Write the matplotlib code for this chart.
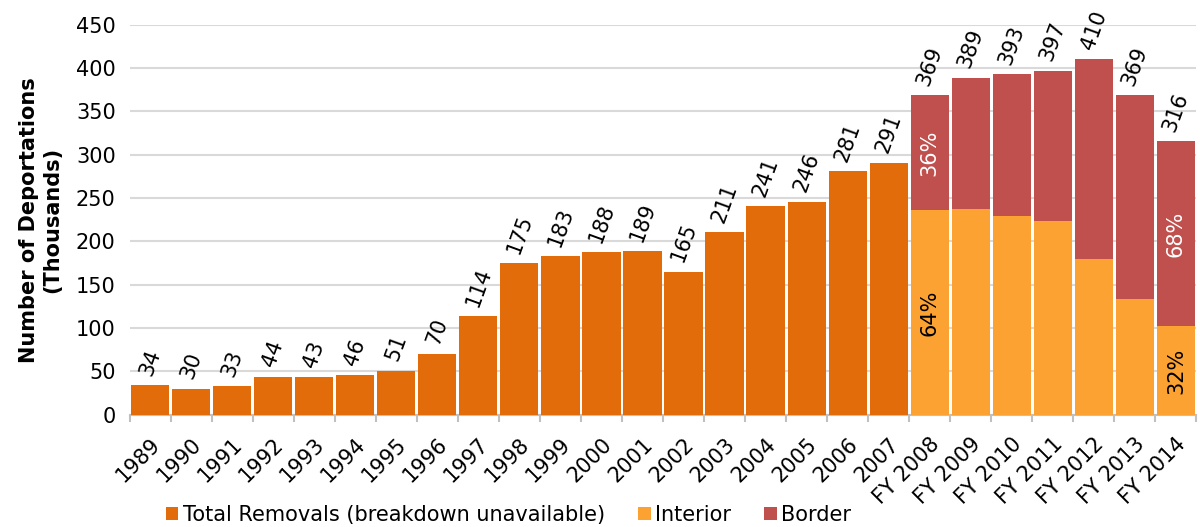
import numpy as np
import matplotlib.pyplot as plt

years = [str(y) for y in range(1989, 2008)] + ["FY %d" % y for y in range(2008, 2015)]
total = [34, 30, 33, 44, 43, 46, 51, 70, 114, 175, 183, 188, 189, 165, 211, 241, 246, 281, 291,
         369, 389, 393, 397, 410, 369, 316]
interior = [236, 237, 229, 224, 180, 133, 102]
n_old = 19

c_total = "#e36c0a"
c_int = "#fba232"
c_bor = "#c0504d"
fs = 15

fig = plt.figure(figsize=(12, 5.27), dpi=100)
ax = fig.add_axes([0.108, 0.213, 0.889, 0.74])

x = np.arange(len(years))
border = [t - i for t, i in zip(total[n_old:], interior)]
ax.bar(x[:n_old], total[:n_old], width=0.93, color=c_total, zorder=3,
       label="Total Removals (breakdown unavailable)")
ax.bar(x[n_old:], interior, width=0.93, color=c_int, zorder=3, label="Interior")
ax.bar(x[n_old:], border, bottom=interior, width=0.93, color=c_bor, zorder=3, label="Border")

for xi, t in zip(x, total):
    ax.text(xi, t + 8, str(t), rotation=70, ha="center", va="bottom", fontsize=fs)

# percentage labels
i0, i1 = n_old, len(years) - 1
ax.text(x[i0], interior[0] + border[0] / 2, "%d%%" % round(100 * border[0] / total[i0]),
        rotation=90, ha="center", va="center", color="white", fontsize=fs)
ax.text(x[i0], interior[0] / 2, "%d%%" % round(100 * interior[0] / total[i0]),
        rotation=90, ha="center", va="center", color="black", fontsize=fs)
ax.text(x[i1], interior[-1] + border[-1] / 2, "%d%%" % round(100 * border[-1] / total[i1]),
        rotation=90, ha="center", va="center", color="white", fontsize=fs)
ax.text(x[i1], interior[-1] / 2, "%d%%" % round(100 * interior[-1] / total[i1]),
        rotation=90, ha="center", va="center", color="black", fontsize=fs)

ax.set_xlim(-0.5, len(years) - 0.5)
ax.set_ylim(0, 450)
ax.set_yticks(np.arange(0, 451, 50))
ax.tick_params(axis="y", length=0, labelsize=fs, pad=10)
ax.set_xticks(x)
ax.set_xticklabels(years, rotation=45, ha="right", rotation_mode="anchor", fontsize=fs)
ax.set_xticks(np.arange(-0.5, len(years), 1), minor=True)
ax.tick_params(axis="x", which="major", length=0, pad=14)
ax.tick_params(axis="x", which="minor", length=5, color="#c0c0c0", width=1.5)
ax.grid(axis="y", color="#d9d9d9", linewidth=1.5, zorder=0)
for s in ["top", "right", "left"]:
    ax.spines[s].set_visible(False)
ax.spines["bottom"].set_color("#c0c0c0")
ax.spines["bottom"].set_linewidth(1.5)

ax.set_ylabel("Number of Deportations\n(Thousands)", fontsize=fs, fontweight="bold", labelpad=10)

ax.legend(loc="lower center", bbox_to_anchor=(0.355, -0.33), ncol=3, frameon=False,
          fontsize=fs, handlelength=0.6, handleheight=0.6, handletextpad=0.2, columnspacing=1.6)

fig.savefig("out.png", dpi=100)
